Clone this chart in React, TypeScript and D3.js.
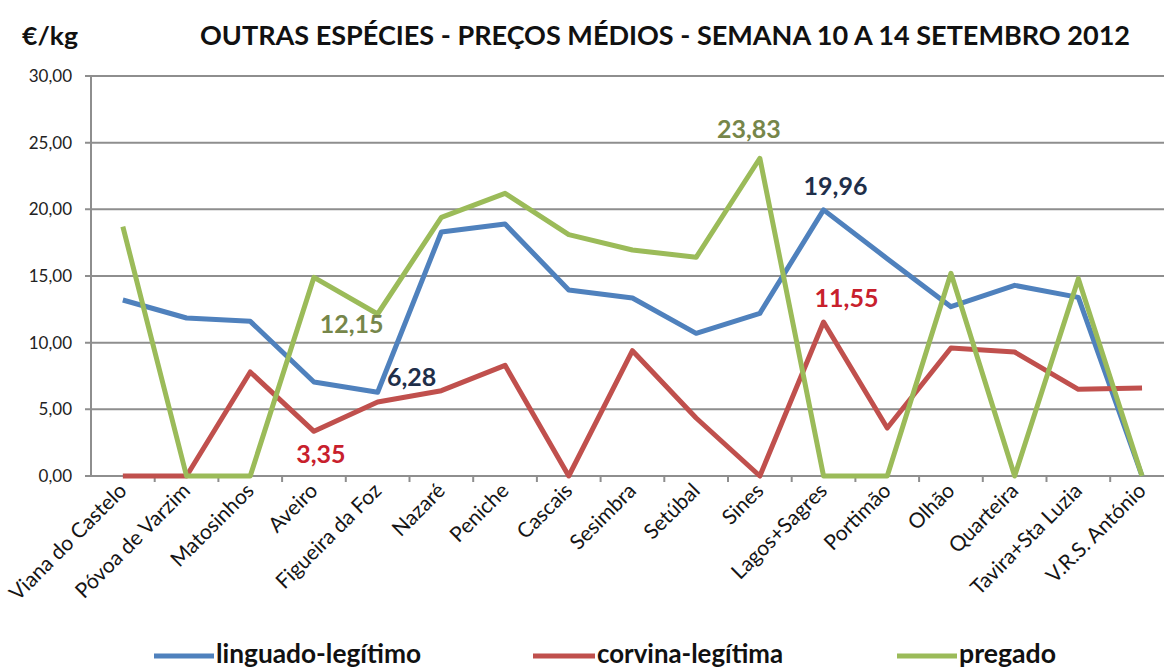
import React, { useEffect, useRef } from "react";
import * as d3 from "d3";

const ports = [
  "Viana do Castelo", "Póvoa de Varzim", "Matosinhos", "Aveiro", "Figueira da Foz",
  "Nazaré", "Peniche", "Cascais", "Sesimbra", "Setúbal", "Sines", "Lagos+Sagres",
  "Portimão", "Olhão", "Quarteira", "Tavira+Sta Luzia", "V.R.S. António",
];

const linguado = [13.2, 11.85, 11.6, 7.05, 6.28, 18.3, 18.9, 13.95, 13.35, 10.7, 12.2, 19.96, 16.3, 12.7, 14.3, 13.4, 0];
const corvina = [0, 0, 7.8, 3.35, 5.55, 6.4, 8.3, 0, 9.4, 4.35, 0, 11.55, 3.6, 9.6, 9.3, 6.5, 6.6];
const pregado = [18.7, 0, 0, 14.9, 12.15, 19.4, 21.2, 18.1, 16.95, 16.4, 23.83, 0, 0, 15.2, 0, 14.8, 0];

const seriesNames = ["linguado-legítimo", "corvina-legítima", "pregado"];
const yTicks = [0, 5, 10, 15, 20, 25, 30];

const FONT = "Lato, 'Open Sans', sans-serif";

const App = () => {
  const ref = useRef<SVGSVGElement>(null);

  useEffect(() => {
    const svg = d3.select(ref.current);
    svg.selectAll("*").remove();

    const left = 91, top = 76, bottom = 476;
    const step = 63.7;

    const x = d3.scaleBand<string>().domain(ports).range([left, left + step * ports.length]);
    const y = d3.scaleLinear().domain([0, 30]).range([bottom, top]);
    const cx = (p: string) => (x(p) as number) + x.bandwidth() / 2;

    const fmt = (v: number) => d3.format(".2f")(v).replace(".", ",");

    // gridlines
    svg.append("g")
      .selectAll("line")
      .data(yTicks)
      .enter()
      .append("line")
      .attr("x1", left - 6)
      .attr("x2", 1164)
      .attr("y1", d => y(d))
      .attr("y2", d => y(d))
      .attr("stroke", "#8e8e8e")
      .attr("stroke-width", 2);

    // y axis line
    svg.append("line")
      .attr("x1", left).attr("x2", left)
      .attr("y1", y(30)).attr("y2", y(0))
      .attr("stroke", "#8e8e8e").attr("stroke-width", 2);

    // y tick labels
    svg.append("g")
      .selectAll("text")
      .data(yTicks)
      .enter()
      .append("text")
      .attr("x", 72)
      .attr("y", d => y(d) + 6)
      .attr("text-anchor", "end")
      .attr("font-family", FONT)
      .attr("font-size", 17)
      .attr("fill", "#222")
      .text(d => fmt(d));

    // x tick marks
    svg.append("g")
      .selectAll("line")
      .data(ports)
      .enter()
      .append("line")
      .attr("x1", d => (x(d) as number) + x.bandwidth())
      .attr("x2", d => (x(d) as number) + x.bandwidth())
      .attr("y1", bottom)
      .attr("y2", bottom + 6)
      .attr("stroke", "#8e8e8e")
      .attr("stroke-width", 2);

    // x labels
    svg.append("g")
      .selectAll("text")
      .data(ports)
      .enter()
      .append("text")
      .attr("transform", d => `translate(${cx(d) + 5},${bottom + 16}) rotate(-45)`)
      .attr("text-anchor", "end")
      .attr("font-family", FONT)
      .attr("font-size", 21)
      .attr("fill", "#151515")
      .text(d => d);

    const colors = ["#4f81bd", "#c0504d", "#9bbb59"];
    const allSeries = [linguado, corvina, pregado];

    const line = d3.line<number>()
      .x((_, i) => cx(ports[i]))
      .y(d => y(d));

    allSeries.forEach((s, i) => {
      svg.append("path")
        .attr("d", line(s))
        .attr("fill", "none")
        .attr("stroke", colors[i])
        .attr("stroke-width", 5)
        .attr("stroke-linejoin", "round");
    });

    // data labels
    const labels = [
      { s: pregado, i: 4, color: "#76864a", dx: -26, dy: 19 },
      { s: linguado, i: 4, color: "#1f2f4a", dx: 34, dy: -6 },
      { s: corvina, i: 3, color: "#c8202c", dx: 7, dy: 32 },
      { s: pregado, i: 10, color: "#76864a", dx: -11, dy: -20 },
      { s: linguado, i: 11, color: "#1f2f4a", dx: 12, dy: -15 },
      { s: corvina, i: 11, color: "#c8202c", dx: 23, dy: -15 },
    ];
    svg.append("g")
      .selectAll("text")
      .data(labels)
      .enter()
      .append("text")
      .attr("x", d => cx(ports[d.i]) + d.dx)
      .attr("y", d => y(d.s[d.i]) + d.dy)
      .attr("text-anchor", "middle")
      .attr("font-family", FONT)
      .attr("font-weight", "bold")
      .attr("font-size", 25)
      .attr("fill", d => d.color)
      .text(d => fmt(d.s[d.i]));

    // title + unit
    svg.append("text")
      .attr("x", 22).attr("y", 45)
      .attr("font-family", FONT).attr("font-weight", "bold").attr("font-size", 24)
      .attr("textLength", 56).attr("lengthAdjust", "spacingAndGlyphs")
      .attr("fill", "#111")
      .text("€/kg");
    svg.append("text")
      .attr("x", 200).attr("y", 45)
      .attr("font-family", FONT).attr("font-weight", "bold").attr("font-size", 26)
      .attr("textLength", 930).attr("lengthAdjust", "spacingAndGlyphs")
      .attr("fill", "#111")
      .text("OUTRAS ESPÉCIES - PREÇOS MÉDIOS - SEMANA 10 A 14 SETEMBRO 2012");

    // legend
    const legendLine = [[154, 214], [533, 595], [897, 957]];
    const legendText = [205, 186, 97];
    const legend = svg.append("g");
    seriesNames.forEach((n, i) => {
      legend.append("line")
        .attr("x1", legendLine[i][0]).attr("x2", legendLine[i][1])
        .attr("y1", 656).attr("y2", 656)
        .attr("stroke", colors[i]).attr("stroke-width", 5);
      legend.append("text")
        .attr("x", legendLine[i][1] + 2).attr("y", 663)
        .attr("font-family", FONT).attr("font-weight", "bold").attr("font-size", 26)
        .attr("textLength", legendText[i]).attr("lengthAdjust", "spacingAndGlyphs")
        .attr("fill", "#111")
        .text(n);
    });
  }, []);

  return (
    <>
      <style>{`body{margin:0}`}</style>
      <svg ref={ref} width={1164} height={669} style={{ display: "block", background: "#fff" }}></svg>
    </>
  );
};

export default App;
